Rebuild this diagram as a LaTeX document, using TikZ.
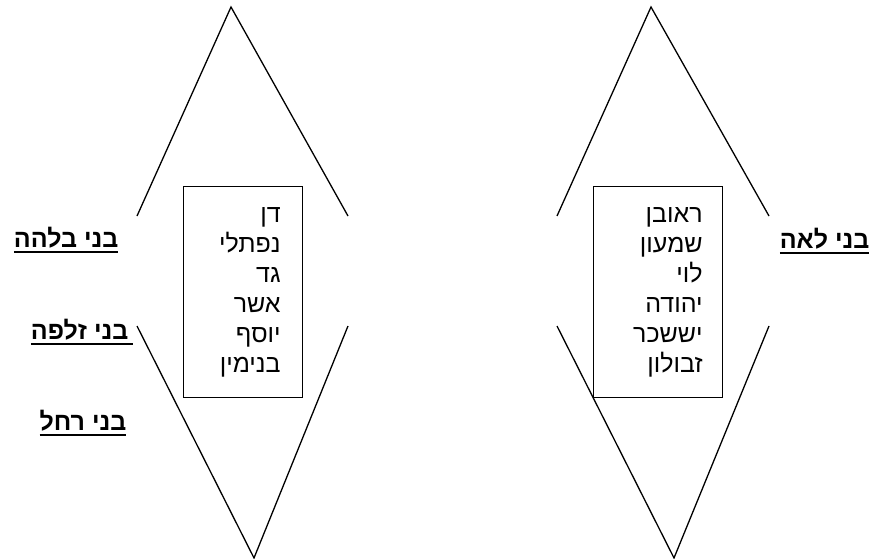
\documentclass[tikz,border=0pt]{standalone}
\usepackage{fontspec}
\newfontfamily\hebfont[Script=Hebrew]{Liberation Sans}
\TeXXeTstate=1
\newcommand{\heb}[1]{\beginR#1\endR}
\newcommand{\hebul}[2][0pt]{\vtop{\hbox{\heb{#2}\kern#1}\kern3pt\hrule height 2.4pt}}

\begin{document}
\begin{tikzpicture}[x=1pt,y=-1pt,line width=1.3pt,
              tribe/.style={draw,line width=1.3pt,anchor=north west,align=right,
                font=\hebfont\fontsize{25}{30}\selectfont,minimum height=211pt,inner ysep=0pt},
              mother/.style={font=\hebfont\bfseries\fontsize{25}{30}\selectfont,
                anchor=base east,inner sep=0pt}]
              \useasboundingbox (0,0) rectangle (875,559);
              % left figure
              \coordinate (ltop) at (231,7);
              \coordinate (ltl) at (137,216);
              \coordinate (ltr) at (348,216);
              \coordinate (lbl) at (137,326);
              \coordinate (lbr) at (348,326);
              \coordinate (lbot) at (254,558);
              \draw (ltl) -- (ltop) -- (ltr);
              \draw (lbl) -- (lbot) -- (lbr);
              \node[tribe,text width=75pt,inner xsep=22pt] (maids) at (183,186)
                {\heb{דן}\\ \heb{נפתלי}\\ \heb{גד}\\ \heb{אשר}\\ \heb{יוסף}\\ \heb{בנימין}};
              % right figure
              \coordinate (rtop) at (651,7);
              \coordinate (rtl) at (557,216);
              \coordinate (rtr) at (769,216);
              \coordinate (rbl) at (557,326);
              \coordinate (rbr) at (769,326);
              \coordinate (rbot) at (674,558);
              \draw (rtl) -- (rtop) -- (rtr);
              \draw (rbl) -- (rbot) -- (rbr);
              \node[tribe,text width=89pt,inner xsep=20pt] (leah) at (593,186)
                {\heb{ראובן}\\ \heb{שמעון}\\ \heb{לוי}\\ \heb{יהודה}\\ \heb{יששכר}\\ \heb{זבולון}};
              % mothers
              \node[mother] (bilhah) at (119,247) {\hebul{בני בלהה}};
              \node[mother] (zilpah) at (134,339) {\hebul[5pt]{בני זלפה}};
              \node[mother] (rachel) at (127,430) {\hebul{בני רחל}};
              \node[mother] (leahsons) at (870,248) {\hebul{בני לאה}};
            \end{tikzpicture}
\end{document}
